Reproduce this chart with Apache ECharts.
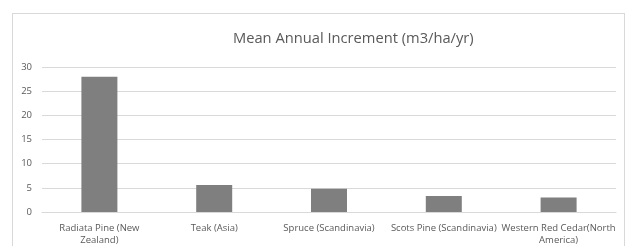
<!DOCTYPE html>
<html>
<head>
<meta charset="utf-8">
<script src="https://cdn.jsdelivr.net/npm/echarts@6/dist/echarts.min.js"></script>
<style>
  html, body { margin: 0; padding: 0; background: #fff; }
  #wrap { position: relative; width: 626px; height: 246px; overflow: hidden; }
  .frame {
    position: absolute; left: 12px; top: 13px; width: 613px; height: 260px;
    border: 1px solid #d9d9d9; box-sizing: border-box;
  }
  #chart { position: absolute; left: 0; top: 0; width: 626px; height: 246px; }
</style>
</head>
<body>
<div id="wrap">
  <div class="frame"></div>
  <div id="chart"></div>
</div>
<script>
// 数据
const categories = [
  'Radiata Pine (New Zealand)',
  'Teak (Asia)',
  'Spruce (Scandinavia)',
  'Scots Pine (Scandinavia)',
  'Western Red Cedar(North America)'
];
const increment = [28, 5.6, 4.8, 3.3, 3.0];
const yTicks = [0, 5, 10, 15, 20, 25, 30];

// 长标签把最后一个词换到第二行
function wrapLabel(name) {
  if (name.length <= 24) return name;
  const i = name.lastIndexOf(' ');
  return name.slice(0, i) + '\n' + name.slice(i + 1);
}

const chart = echarts.init(document.getElementById('chart'));

const option = {
  animation: false,
  textStyle: { fontFamily: 'Open Sans' },
  title: {
    text: 'Mean Annual Increment (m3/ha/yr)',
    left: 228,
    top: 26,
    textStyle: {
      fontFamily: 'Open Sans',
      fontSize: 14.7,
      fontWeight: 'normal',
      color: '#595959'
    }
  },
  grid: {
    left: 42,
    right: 10,
    top: 67,
    bottom: 31
  },
  xAxis: {
    type: 'category',
    data: categories,
    axisTick: { show: false },
    axisLine: { lineStyle: { color: '#d9d9d9' } },
    axisLabel: {
      interval: 0,
      margin: 10,
      color: '#595959',
      fontSize: 9.5,
      lineHeight: 12,
      formatter: wrapLabel
    }
  },
  yAxis: {
    type: 'value',
    min: yTicks[0],
    max: yTicks[yTicks.length - 1],
    interval: 5,
    axisLine: { show: false },
    axisTick: { show: false },
    splitLine: { lineStyle: { color: '#d9d9d9' } },
    axisLabel: { color: '#595959', fontSize: 9.5, margin: 10 }
  },
  series: [
    {
      type: 'bar',
      data: increment,
      barWidth: 36,
      itemStyle: { color: '#7f7f7f' }
    }
  ]
};

chart.setOption(option);
</script>
</body>
</html>
